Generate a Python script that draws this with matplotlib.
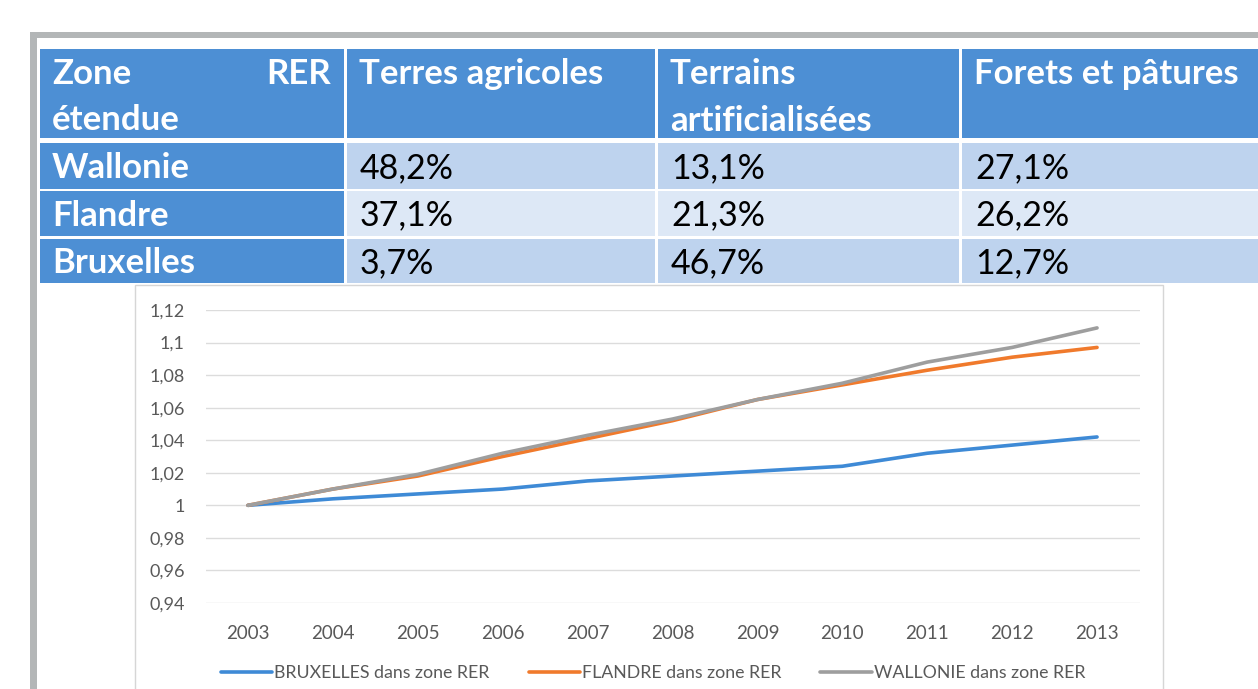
import matplotlib
matplotlib.use("Agg")
import matplotlib.pyplot as plt
from matplotlib.patches import Rectangle
from matplotlib.ticker import FuncFormatter

# table data
zones = ['Wallonie', 'Flandre', 'Bruxelles']
col_headers = ['Terres agricoles', 'Terrains\nartificialisées', 'Forets et pâtures']
terres_agricoles = [48.2, 37.1, 3.7]
terrains_artif = [13.1, 21.3, 46.7]
forets_patures = [27.1, 26.2, 12.7]

# chart data (index, base 2003 = 1)
years = ['2003', '2004', '2005', '2006', '2007', '2008', '2009', '2010', '2011', '2012', '2013']
bruxelles = [1.000, 1.004, 1.007, 1.010, 1.015, 1.018, 1.021, 1.024, 1.032, 1.037, 1.042]
flandre = [1.000, 1.010, 1.018, 1.030, 1.041, 1.052, 1.065, 1.074, 1.083, 1.091, 1.097]
wallonie = [1.000, 1.010, 1.019, 1.032, 1.043, 1.053, 1.065, 1.075, 1.088, 1.097, 1.109]
series_names = ['BRUXELLES dans zone RER', 'FLANDRE dans zone RER', 'WALLONIE dans zone RER']

W, H = 1258, 689
FONT = ['Lato', 'DejaVu Sans']
plt.rcParams['font.family'] = FONT

fig = plt.figure(figsize=(W / 100, H / 100), dpi=100)


def fx(x):
	return x / W


def fy(y):
	return 1 - y / H


def box(x0, y0, x1, y1, **kw):
	# rectangle given in pixel coords (top-left origin)
	fig.add_artist(Rectangle((fx(x0), fy(y1)), fx(x1) - fx(x0), fy(y0) - fy(y1),
		transform=fig.transFigure, **kw))


def fmt_pct(v):
	return f"{v:.1f}".replace('.', ',') + '%'


# grey frame
box(30, 32, W + 5, 38, facecolor='#b3b6b7', edgecolor='none')
box(30, 32, 37, H + 5, facecolor='#b3b6b7', edgecolor='none')

# table
BLUE = '#4d8fd4'
ROW_DARK = '#bed3ee'
ROW_LIGHT = '#dde8f6'
col_x = [(40, 344), (347, 655), (658, 959), (962, W + 5)]
head_y = (49, 138)
row_y = [(143, 189), (191, 236), (239, 283)]
FS_B = 25
FS_R = 24.5

for (x0, x1) in col_x:
	box(x0, head_y[0], x1, head_y[1], facecolor=BLUE, edgecolor='none')

fig.text(fx(52), fy(74), 'Zone', color='white', fontsize=FS_B, fontweight='bold', va='center', ha='left')
fig.text(fx(331), fy(74), 'RER', color='white', fontsize=FS_B, fontweight='bold', va='center', ha='right')
fig.text(fx(52), fy(120), 'étendue', color='white', fontsize=FS_B, fontweight='bold', va='center', ha='left')
for i, h in enumerate(col_headers):
	x0 = col_x[i + 1][0]
	lines = h.split('\n')
	for j, line in enumerate(lines):
		fig.text(fx(x0 + 12), fy(74 + 47 * j), line, color='white', fontsize=FS_B,
			fontweight='bold', va='center', ha='left')

values = [terres_agricoles, terrains_artif, forets_patures]
for r, zone in enumerate(zones):
	y0, y1 = row_y[r]
	yc = (y0 + y1) / 2 + 2
	box(col_x[0][0], y0, col_x[0][1], y1, facecolor=BLUE, edgecolor='none')
	fig.text(fx(52), fy(yc), zone, color='white', fontsize=FS_B, fontweight='bold', va='center', ha='left')
	fill = ROW_LIGHT if r == 1 else ROW_DARK
	for c in range(3):
		x0, x1 = col_x[c + 1]
		box(x0, y0, x1, y1, facecolor=fill, edgecolor='none')
		fig.text(fx(x0 + 13), fy(yc), fmt_pct(values[c][r]), color='black', fontsize=FS_R,
			va='center', ha='left')

# chart frame
box(135, 285, 1163, H + 5, facecolor='white', edgecolor='#d6d6d6', linewidth=1, zorder=0.5)

ax = fig.add_axes([fx(205.5), fy(603), fx(1139.5) - fx(205.5), fy(310) - fy(603)])
ax.set_zorder(2)
xs = list(range(len(years)))
ax.plot(xs, bruxelles, color='#3e8ad6', lw=2.6, label=series_names[0], solid_capstyle='round')
ax.plot(xs, flandre, color='#f07a2c', lw=2.6, label=series_names[1], solid_capstyle='round')
ax.plot(xs, wallonie, color='#9e9e9e', lw=2.6, label=series_names[2], solid_capstyle='round')

ax.set_xlim(-0.5, len(years) - 0.5)
ax.set_ylim(0.94, 1.12)
ax.set_yticks([0.94, 0.96, 0.98, 1.0, 1.02, 1.04, 1.06, 1.08, 1.1, 1.12])
ax.yaxis.set_major_formatter(FuncFormatter(
	lambda v, p: f"{v:.2f}".rstrip('0').rstrip('.').replace('.', ',')))
ax.set_xticks(xs)
ax.set_xticklabels(years)
ax.grid(axis='y', color='#dcdcdc', lw=1)
ax.set_axisbelow(True)
for s in ax.spines.values():
	s.set_visible(False)
ax.tick_params(axis='both', length=0, colors='#595959')
ax.tick_params(axis='y', pad=15, labelsize=13)
ax.tick_params(axis='x', pad=16, labelsize=13.5)
ax.patch.set_alpha(0)

leg = fig.legend(loc='center', bbox_to_anchor=(fx(653), fy(673)), ncol=3, frameon=False,
	fontsize=12.8, handlelength=2.9, handletextpad=0.1, columnspacing=2.2, labelcolor='#595959')
leg.set_zorder(3)

fig.savefig('out.png', dpi=100)
